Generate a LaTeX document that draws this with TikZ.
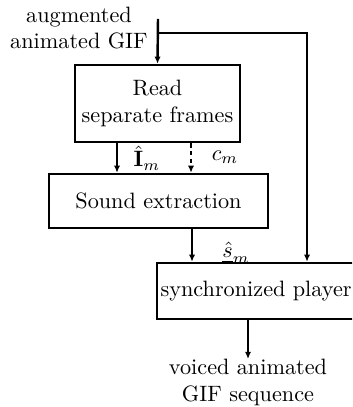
\documentclass[tikz,border=0pt]{standalone}
\usetikzlibrary{arrows.meta}
\begin{document}
\begin{tikzpicture}[x=0.45pt,y=-0.45pt,
  box/.style={draw, line width=1.1pt, inner sep=0pt, align=center},
  wire/.style={line width=1.1pt},
  conn/.style={wire, -{Latex[length=3.2pt,width=2.8pt]}},
  lab/.style={inner sep=0pt}]
\useasboundingbox (0,0) rectangle (352,407);
\clip (0,0) rectangle (352,407);
% boxes
\node[box, minimum width=165*0.45pt, minimum height=77*0.45pt] (read) at (157.5,103.5) {Read\\separate frames};
\node[box, minimum width=219*0.45pt, minimum height=54*0.45pt] (sound) at (158.5,201) {Sound extraction};
\node[box, anchor=west, inner xsep=1.5pt, minimum height=56*0.45pt] (sync) at (156,291) {synchronized player};
% texts
\node[lab, align=center] (in) at (79,28) {augmented\\animated GIF};
\node[lab, align=center, anchor=north] (out) at (248,359) {voiced animated\\GIF sequence};
% coordinates
\coordinate (top) at (158,19);
\coordinate (br) at (158,33);
\coordinate (rt) at (307,33);
\coordinate (xa) at (117,0);
\coordinate (xb) at (191,0);
\coordinate (xc) at (192,0);
\coordinate (xd) at (248,0);
% connectors
\draw[conn] (top) -- (read.north);
\draw[conn] (br) -- (rt) -- (rt |- sync.north);
\draw[conn] (xa |- read.south) -- (xa |- sound.north);
\draw[conn, dash pattern=on 2pt off 1.5pt] (xb |- read.south) -- (xb |- sound.north);
\draw[conn] (xc |- sound.south) -- (xc |- sync.north);
\draw[conn] (xd |- sync.south) -- (out.north);
% labels
\node[lab] (lI) at (147,158) {$\hat{\mathbf{I}}_m$};
\node[lab] (lc) at (225,157) {$c_m$};
\node[lab] (ls) at (236,253) {$\underline{\hat{s}}_m$};
\end{tikzpicture}
\end{document}
